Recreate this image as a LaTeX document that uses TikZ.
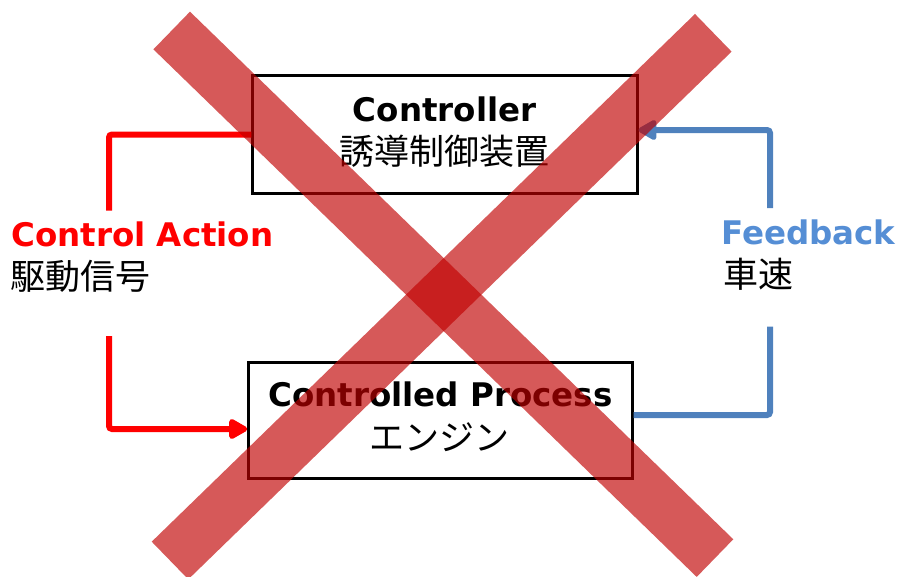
\documentclass[tikz,border=0pt]{standalone}
\usepackage{fontspec}
\setmainfont{DejaVu Sans}
\newfontfamily\jp{Noto Sans CJK JP}
\usetikzlibrary{arrows.meta}

\definecolor{actred}{HTML}{FF0000}
\definecolor{fbline}{HTML}{4F81BD}
\definecolor{fbtext}{HTML}{558ED5}
\definecolor{crossred}{HTML}{C00000}

\tikzset{
  box/.style={draw=black, line width=3pt, inner sep=0pt, fill=none},
  entitle/.style={font=\fontsize{32.5}{36}\selectfont\bfseries, inner sep=0pt, anchor=base},
  jplabel/.style={font=\fontsize{35}{40}\selectfont\jp, inner sep=0pt},
  actline/.style={draw=actred, line width=6pt, rounded corners=3pt},
  fbarrow/.style={draw=fbline, line width=6pt, rounded corners=3pt},
  headtip/.style={-{Triangle[length=21pt,width=22pt,round=false]}},
  crossbar/.style={draw=crossred, draw opacity=0.65, line width=52.5pt, line cap=butt},
}

\begin{document}
\begin{tikzpicture}[x=1pt, y=-1pt]
  \useasboundingbox (0,0) rectangle (902,576);
  \clip (0,0) rectangle (902,576);

  % blocks
  \node[box, minimum width=384.2pt, minimum height=118.4pt] (ctrl) at (444.9,134.5) {};
  \node[box, minimum width=383.3pt, minimum height=116pt] (proc) at (440.35,420) {};

  % block texts
  \node[entitle] (ctrlen) at (444.7,121.7) {Controller};
  \node[jplabel] (ctrljp) at (444,151) {誘導制御装置};
  \node[entitle] (procen) at (440.3,406) {Controlled Process};
  \node[jplabel] (procjp) at (439,437) {エンジン};

  % side labels
  \node[entitle, anchor=base west, text=actred] (caen) at (11,246.7) {Control Action};
  \node[jplabel, anchor=west] (cajp) at (10.5,276) {駆動信号};
  \node[entitle, anchor=base west, text=fbtext] (fben) at (721,244) {Feedback};
  \node[jplabel, anchor=west] (fbjp) at (723,274) {車速};

  % connector end points beside the labels
  \coordinate (catop) at (109,210.7);
  \coordinate (cabot) at (109,336);
  \coordinate (fbtop) at (770,208);
  \coordinate (fbbot) at (770,326.7);

  % control action: controller -> controlled process
  \draw[actline] (catop) |- (ctrl.west);
  \draw[actline, headtip] (cabot) |- ([yshift=-9pt]proc.west);

  % feedback: controlled process -> controller
  \draw[fbarrow] (fbbot) |- ([yshift=5pt]proc.east);
  \draw[fbarrow, headtip] (fbtop) |- ([yshift=4.5pt]ctrl.east);

  % large cross over the whole loop
  \coordinate (xa1) at (171.7,30.5);
  \coordinate (xa2) at (715,558.1);
  \coordinate (xb1) at (713.3,32.8);
  \coordinate (xb2) at (170,560.5);
  \draw[crossbar] (xa1) -- (xa2);
  \draw[crossbar] (xb1) -- (xb2);
\end{tikzpicture}
\end{document}
